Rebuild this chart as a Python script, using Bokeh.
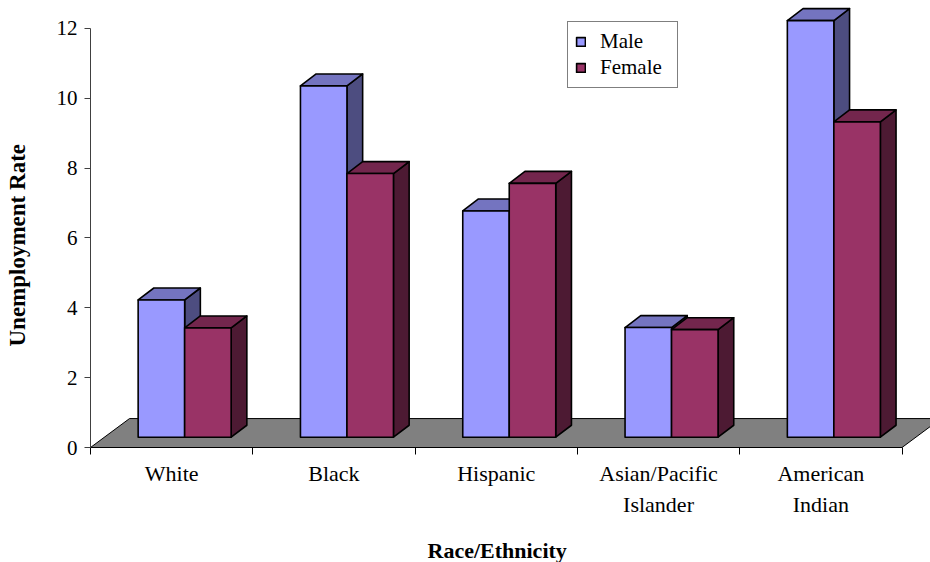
import numpy as np
from bokeh.plotting import figure
from bokeh.models import Range1d, FixedTicker, Title, Legend, LegendItem, ColumnDataSource
from bokeh.embed import file_html
from bokeh.resources import INLINE

# ---------------- data ----------------
categories = ["White", "Black", "Hispanic", "Asian/Pacific Islander", "American Indian"]
tick_labels = ["White", "Black", "Hispanic", "Asian/Pacific\nIslander", "American\nIndian"]
male = [3.93, 10.06, 6.48, 3.14, 11.93]
female = [3.13, 7.55, 7.27, 3.08, 9.03]
y_ticks = [0, 2, 4, 6, 8, 10, 12]

# ---------------- layout constants (pixels) ----------------
W, H = 930, 562
FRAME_L = 90          # frame left inside figure
FRAME_B = 448         # y=0 position inside figure
PX_X = 162.3          # px per category
PX_Y = 35.0           # px per unit
x_end = (W - FRAME_L) / PX_X
y_end = FRAME_B / PX_Y

FLOOR_DX, FLOOR_DY = 39 / PX_X, 29 / PX_Y
FRONT_DX, FRONT_DY = 13 / PX_X, 10.3 / PX_Y
DEPTH_DX, DEPTH_DY = 15.7 / PX_X, 12.0 / PX_Y
BAR_W = 46.5 / PX_X

FONT = "'Liberation Serif', 'Times New Roman', serif"

p = figure(width=W, height=H, x_range=Range1d(0, x_end), y_range=Range1d(0, y_end),
           output_backend="svg", toolbar_location=None,
           min_border_left=FRAME_L, min_border_right=0, min_border_top=0,
           min_border_bottom=H - FRAME_B)
p.xgrid.grid_line_color = None
p.ygrid.grid_line_color = None
p.outline_line_color = None
p.background_fill_color = "white"
p.border_fill_color = "white"

n = len(categories)
centers = np.arange(n) + 0.5

# floor
p.patch([0, n, n + FLOOR_DX, FLOOR_DX], [0, 0, FLOOR_DY, FLOOR_DY],
        fill_color="#808080", line_color="black", line_width=1)


def bar_faces(vals, left, right):
    vals = np.asarray(vals, dtype=float)
    b = np.full(n, FRONT_DY)
    t = FRONT_DY + vals
    tops_x = [[l, r, r + DEPTH_DX, l + DEPTH_DX] for l, r in zip(left, right)]
    tops_y = [[tt, tt, tt + DEPTH_DY, tt + DEPTH_DY] for tt in t]
    side_x = [[r, r + DEPTH_DX, r + DEPTH_DX, r] for r in right]
    side_y = [[bb, bb + DEPTH_DY, tt + DEPTH_DY, tt] for bb, tt in zip(b, t)]
    return b, t, tops_x, tops_y, side_x, side_y


series = [
    ("Male", male, centers - BAR_W + FRONT_DX, centers + FRONT_DX, "#9999FF", "#7474C0", "#4D4D80"),
    ("Female", female, centers + FRONT_DX, centers + BAR_W + FRONT_DX, "#993366", "#73264D", "#4D1A33"),
]
legend_items = []
for name, vals, left, right, c_front, c_top, c_side in series:
    b, t, tx, ty, sx, sy = bar_faces(vals, left, right)
    p.patches(sx, sy, fill_color=c_side, line_color="black", line_width=1.6, line_join="round")
    p.patches(tx, ty, fill_color=c_top, line_color="black", line_width=1.6, line_join="round")
    src = ColumnDataSource(dict(left=left, right=right, bottom=b, top=t))
    r = p.quad(left="left", right="right", bottom="bottom", top="top", source=src,
               fill_color=c_front, line_color="black", line_width=1.6, line_join="round")
    legend_items.append(LegendItem(label=name, renderers=[r]))

# axes
xa = p.xaxis[0]
xa.ticker = FixedTicker(ticks=[float(c) for c in centers], minor_ticks=list(range(n + 1)))
xa.major_label_overrides = {float(c): lab for c, lab in zip(centers, tick_labels)}
xa.bounds = (0, n)
xa.axis_line_color = "black"
xa.axis_line_width = 1
xa.major_tick_line_color = None
xa.major_tick_out = 0
xa.major_tick_in = 0
xa.minor_tick_line_color = "black"
xa.minor_tick_out = 7
xa.minor_tick_in = 0
xa.major_label_standoff = 6
xa.major_label_text_font = FONT
xa.major_label_text_font_size = "22px"
xa.major_label_text_color = "black"
xa.major_label_text_line_height = 1.25
xa.major_label_orientation = "horizontal"
# blank spacer label: pushes the title panel further from the axis
xa.axis_label = " "
xa.axis_label_text_font_size = "1px"
xa.axis_label_standoff = 12

ya = p.yaxis[0]
ya.ticker = FixedTicker(ticks=y_ticks, minor_ticks=[])
ya.bounds = (0, 12)
ya.axis_line_color = "#404040"
ya.major_tick_line_color = "#404040"
ya.major_tick_out = 6
ya.major_tick_in = 0
ya.minor_tick_line_color = None
ya.major_label_standoff = 7
ya.major_label_text_font = FONT
ya.major_label_text_font_size = "21px"
ya.major_label_text_color = "black"
ya.axis_label = " "
ya.axis_label_text_font_size = "1px"
ya.axis_label_standoff = 20

# axis titles (as side-panel titles so they are not clipped by the frame)
p.add_layout(Title(text="Unemployment Rate", align="left", offset=101, standoff=0,
                   text_font=FONT, text_font_style="bold", text_font_size="23px",
                   text_color="black"), "left")
p.add_layout(Title(text="Race/Ethnicity", align="left", offset=337, standoff=0,
                   text_font=FONT, text_font_style="bold", text_font_size="22px",
                   text_color="black"), "below")

legend = Legend(items=legend_items, location=(567 - 90, 448 - 89),
                border_line_color="black", border_line_width=1,
                background_fill_color="white", background_fill_alpha=1,
                padding=7, spacing=1, margin=0, label_standoff=14,
                glyph_width=11, glyph_height=11, label_height=22, label_width=70,
                label_text_font=FONT, label_text_font_size="21px", label_text_color="black")
p.add_layout(legend)

open("out.html", "w").write(file_html(p, INLINE))
